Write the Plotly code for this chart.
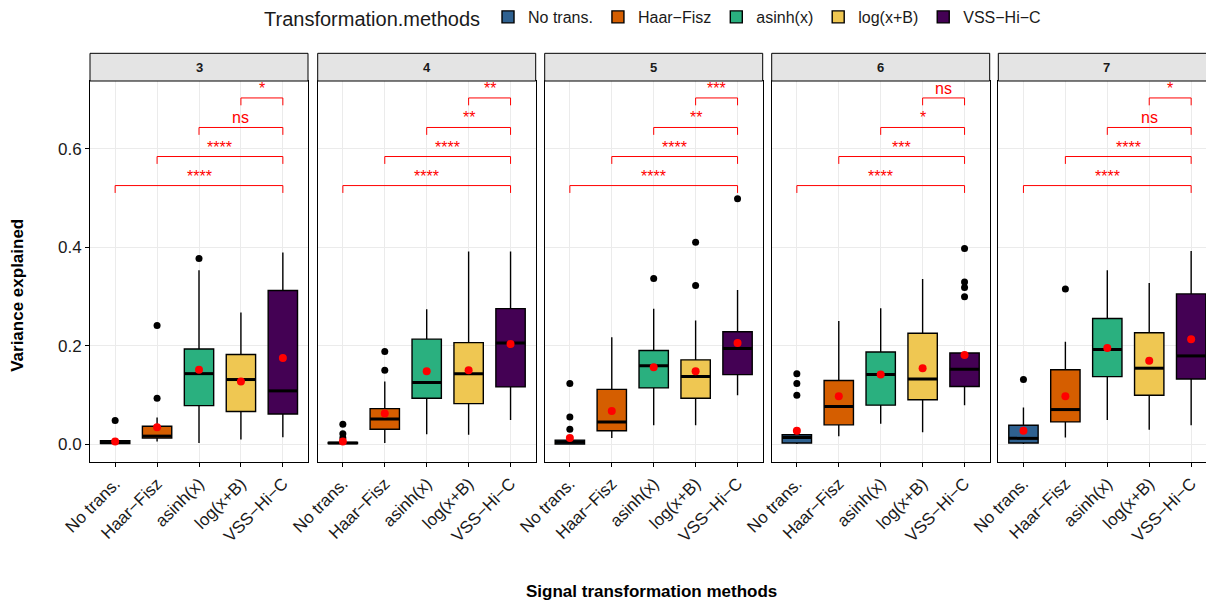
import plotly.graph_objects as go

# ---------------- data ----------------
panels = ["3", "4", "5", "6", "7"]
methods = ["No trans.", "Haar−Fisz", "asinh(x)", "log(x+B)", "VSS−Hi−C"]
colors = ["#2F6190", "#D55E00", "#2AB07F", "#EFC752", "#440154"]

# per panel: lists over methods
lower = [
    [0.000, 0.005, 0.002, 0.009, 0.014],
    [0.000, 0.002, 0.020, 0.019, 0.049],
    [0.000, 0.012, 0.038, 0.038, 0.099],
    [0.000, 0.016, 0.041, 0.024, 0.079],
    [0.000, 0.0135, 0.049, 0.029, 0.038],
]
q1 = [
    [0.001, 0.012, 0.078, 0.066, 0.061],
    [0.001, 0.030, 0.093, 0.082, 0.116],
    [0.000, 0.027, 0.114, 0.093, 0.141],
    [0.002, 0.039, 0.079, 0.090, 0.117],
    [0.002, 0.045, 0.137, 0.099, 0.132],
]
median = [
    [0.003, 0.016, 0.143, 0.131, 0.108],
    [0.002, 0.051, 0.125, 0.143, 0.205],
    [0.004, 0.045, 0.159, 0.137, 0.194],
    [0.0135, 0.076, 0.141, 0.132, 0.152],
    [0.0115, 0.070, 0.192, 0.154, 0.179],
]
q3 = [
    [0.007, 0.036, 0.193, 0.182, 0.312],
    [0.003, 0.072, 0.213, 0.206, 0.275],
    [0.008, 0.111, 0.190, 0.171, 0.228],
    [0.019, 0.129, 0.187, 0.225, 0.185],
    [0.038, 0.151, 0.255, 0.226, 0.305],
]
upper = [
    [0.009, 0.054, 0.353, 0.267, 0.389],
    [0.004, 0.127, 0.274, 0.391, 0.391],
    [0.010, 0.217, 0.275, 0.251, 0.313],
    [0.021, 0.250, 0.276, 0.335, 0.185],
    [0.074, 0.208, 0.353, 0.327, 0.392],
]
means = [
    [0.005, 0.034, 0.151, 0.127, 0.175],
    [0.005, 0.062, 0.148, 0.150, 0.203],
    [0.012, 0.067, 0.156, 0.148, 0.205],
    [0.027, 0.097, 0.141, 0.154, 0.181],
    [0.027, 0.097, 0.195, 0.169, 0.213],
]
outliers = [
    [[0.048], [0.093, 0.241], [0.377], [], []],
    [[0.040, 0.021, 0.012], [0.188, 0.150], [], [], []],
    [[0.123, 0.055, 0.030], [], [0.336], [0.410, 0.322], [0.498]],
    [[0.143, 0.123, 0.099], [], [], [], [0.397, 0.329, 0.318, 0.299]],
    [[0.131], [0.315], [], [], []],
]
# significance comparisons: each vs VSS-Hi-C (group 5)
comp_start = [1, 2, 3, 4]
bracket_y = [0.525, 0.584, 0.643, 0.703]
sig_labels = [
    ["****", "****", "ns", "*"],
    ["****", "****", "**", "**"],
    ["****", "****", "**", "***"],
    ["****", "***", "*", "ns"],
    ["****", "****", "ns", "*"],
]

# ---------------- layout geometry (window pixels) ----------------
WIN_W, WIN_H = 1214, 605
OFF = 8  # page body margin offset
W, H = WIN_W - OFF, WIN_H - OFF
plot_left, plot_top, plot_bottom = 90, 81, 462.3
ML = plot_left - OFF
MT = plot_top - OFF
MB = WIN_H - plot_bottom
MR = 0
plot_w = W - ML - MR
plot_h = H - MT - MB
left_px = [90, 317.7, 544.7, 771.7, 998.3]
panel_w = 218.0
box_w = 0.7
tip = 0.015
font = "Liberation Sans, Arial, sans-serif"


def px_x(xw):
    return (xw - plot_left) / plot_w


def px_y(yw):
    return (plot_bottom - yw) / plot_h


fig = go.Figure()

for p in range(len(panels)):
    xa = "x" if p == 0 else f"x{p+1}"
    ya = "y" if p == 0 else f"y{p+1}"
    for m in range(len(methods)):
        pos = m + 1
        fig.add_trace(go.Box(
            x=[pos], q1=[q1[p][m]], median=[median[p][m]], q3=[q3[p][m]],
            lowerfence=[lower[p][m]], upperfence=[upper[p][m]],
            width=box_w, whiskerwidth=0, fillcolor=colors[m],
            line=dict(color="black", width=1.4),
            name=methods[m], legendgroup=methods[m], showlegend=(p == 0),
            boxpoints=False, hoverinfo="skip", xaxis=xa, yaxis=ya,
        ))
        # thick median line
        fig.add_trace(go.Scatter(
            x=[pos - box_w / 2, pos + box_w / 2], y=[median[p][m]] * 2,
            mode="lines", line=dict(color="black", width=3),
            showlegend=False, hoverinfo="skip", xaxis=xa, yaxis=ya,
        ))
        if outliers[p][m]:
            fig.add_trace(go.Scatter(
                x=[pos] * len(outliers[p][m]), y=outliers[p][m], mode="markers",
                marker=dict(color="black", size=7),
                showlegend=False, hoverinfo="skip", xaxis=xa, yaxis=ya,
            ))
    # means
    fig.add_trace(go.Scatter(
        x=[m + 1 for m in range(len(methods))], y=means[p], mode="markers",
        marker=dict(color="#FF0000", size=8),
        showlegend=False, hoverinfo="skip", xaxis=xa, yaxis=ya,
    ))
    # brackets
    for b in range(len(comp_start)):
        x1, x2 = comp_start[b], len(methods)
        yb = bracket_y[b]
        fig.add_trace(go.Scatter(
            x=[x1, x1, x2, x2], y=[yb - tip, yb, yb, yb - tip], mode="lines",
            line=dict(color="#FF0000", width=1),
            showlegend=False, hoverinfo="skip", xaxis=xa, yaxis=ya,
        ))
        fig.add_annotation(
            x=(x1 + x2) / 2, y=yb, xref=xa, yref=ya, text=sig_labels[p][b],
            showarrow=False, yanchor="bottom", yshift=-1,
            font=dict(color="#FF0000", size=16, family=font),
        )
    # strip
    fig.add_shape(type="rect", xref=f"{xa} domain", yref=f"{ya} domain",
                  x0=0, x1=1, y0=1, y1=1 + 27.7 / plot_h,
                  fillcolor="#E4E4E4", line=dict(color="black", width=1))
    fig.add_annotation(x=0.5, y=1 + 13.8 / plot_h, xref=f"{xa} domain",
                       yref=f"{ya} domain", text=f"<b>{panels[p]}</b>",
                       xanchor="center", yanchor="middle",
                       showarrow=False, font=dict(size=13, color="#1A1A1A", family=font))

layout = dict(
    width=W, height=H,
    margin=dict(l=ML, r=MR, t=MT, b=MB, autoexpand=False),
    paper_bgcolor="white", plot_bgcolor="white",
    showlegend=True,
    legend=dict(
        orientation="h", x=px_x(654), xanchor="center",
        y=1 - (18 - OFF) / H, yanchor="middle",
        xref="paper", yref="container",
        title=dict(text="Transformation.methods", font=dict(size=20, family=font, color="#1A1A1A")),
        font=dict(size=16, family=font, color="#1A1A1A"),
        itemwidth=30,
    ),
)
for p in range(len(panels)):
    xk = "xaxis" if p == 0 else f"xaxis{p+1}"
    yk = "yaxis" if p == 0 else f"yaxis{p+1}"
    l = left_px[p]
    r = min(l + panel_w, WIN_W)
    xr_hi = 0.4 + (r - l) / panel_w * 5.2
    layout[xk] = dict(
        domain=[px_x(l), px_x(r)], range=[0.4, xr_hi],
        anchor="y" if p == 0 else f"y{p+1}", automargin=False,
        tickvals=[m + 1 for m in range(len(methods))], ticktext=methods,
        tickangle=-45, tickfont=dict(size=17, family=font, color="#1A1A1A"),
        ticks="outside", ticklen=4, tickcolor="black",
        showgrid=True, gridcolor="#EBEBEB", gridwidth=1,
        showline=True, linecolor="black", linewidth=1, mirror=True, zeroline=False,
    )
    layout[yk] = dict(
        domain=[0, 1], range=[-0.0365, 0.7374],
        anchor="x" if p == 0 else f"x{p+1}", automargin=False,
        tickvals=[0, 0.2, 0.4, 0.6], ticktext=["0.0", "0.2", "0.4", "0.6"],
        showticklabels=(p == 0), ticks="outside" if p == 0 else "",
        ticklen=4, tickcolor="black",
        tickfont=dict(size=17, family=font, color="#1A1A1A"),
        showgrid=True, gridcolor="#EBEBEB", gridwidth=1,
        showline=True, linecolor="black", linewidth=1, mirror=True, zeroline=False,
    )
fig.update_layout(**layout)

fig.add_annotation(x=px_x(651), y=px_y(592),
                   xref="paper", yref="paper", xanchor="center", yanchor="middle",
                   text="<b>Signal transformation methods</b>",
                   showarrow=False, font=dict(size=17, family=font, color="black"))
fig.add_annotation(x=px_x(18), y=px_y(296), xref="paper", yref="paper",
                   xanchor="center", yanchor="middle",
                   text="<b>Variance explained</b>", textangle=-90, showarrow=False,
                   font=dict(size=17, family=font, color="black"))

fig.write_html("out.html")
